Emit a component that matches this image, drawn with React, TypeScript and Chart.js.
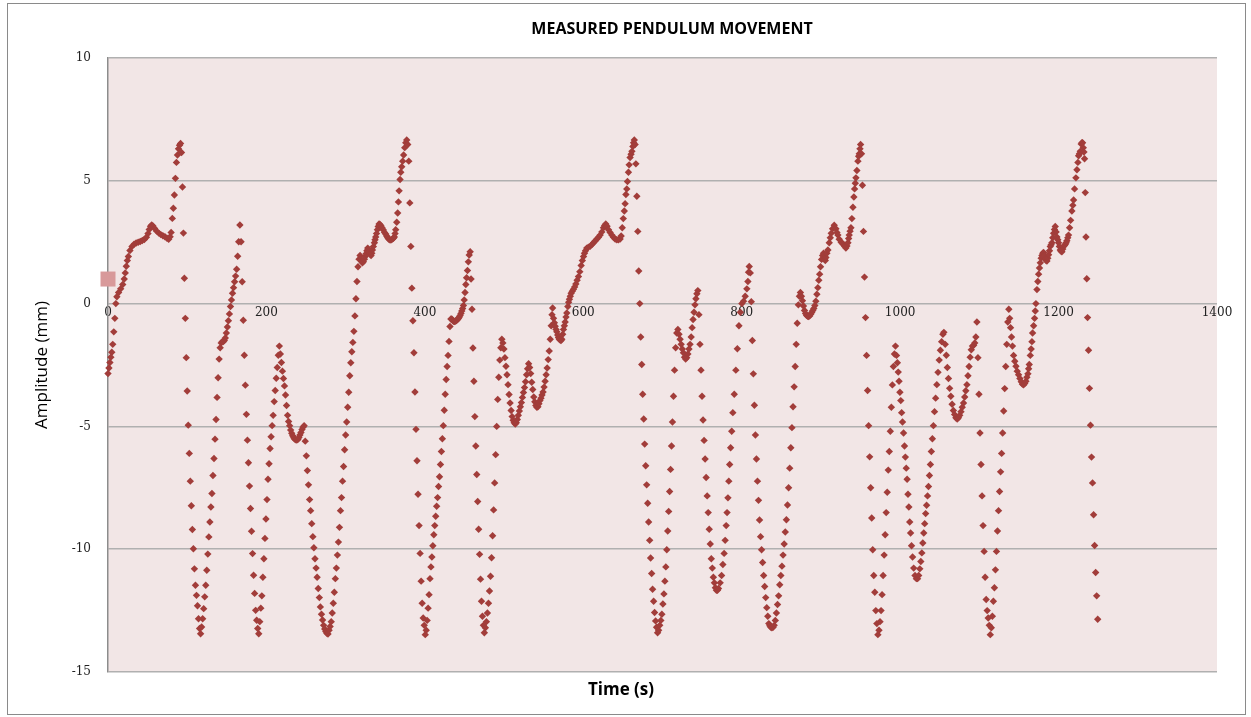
import { useEffect, useRef } from "react";
import { Chart, registerables } from "chart.js";

Chart.register(...registerables);

// [time (s), amplitude (mm)]
const cycle1: [number, number][] = [
  [0,-2.85],[1.2,-2.62],[2.4,-2.4],[3.6,-2.18],[4.8,-1.98],[6,-1.66],[7.3,-1.15],[8.6,-0.6],[9.9,0],
  [11.2,0.28],[13.4,0.45],[16,0.6],[18.6,0.78],[20.5,1.0],[21.8,1.25],[23.1,1.52],[24.4,1.75],[25.7,1.92],[27.7,2.16],[30.3,2.33],[32.9,2.42],[35.5,2.47],[38.1,2.5],[40.7,2.53],[43.3,2.57],[45.9,2.61],[48.5,2.7],[50.5,2.85],[52,3.02],[53.7,3.15],[55.2,3.2],[56.7,3.16],[58.9,3.06],[61.5,2.95],[64.1,2.87],[66.7,2.81],[69.3,2.76],[71.9,2.72],[74.5,2.66],[76.6,2.62],[78.4,2.72],[79.7,2.9],
  [81.2,3.47],[82.5,3.88],[83.8,4.42],[85.1,5.1],[86.4,5.75],[87.7,6.05],[89,6.3],[90.3,6.45],[91.6,6.52],[92.8,6.15],
  [94,4.75],[95.2,2.87],[96.4,1.03],[97.6,-0.6],[98.8,-2.2],[100,-3.56],[101.3,-4.95],[102.6,-6.1],[103.9,-7.23],[105.2,-8.23],[106.5,-9.2],[107.8,-9.98],[109.1,-10.8],[110.4,-11.47],[111.7,-11.88],[113,-12.3],[114.3,-12.83],[115.6,-13.23],[116.9,-13.44],
  [118.2,-13.17],[119.5,-12.83],[120.8,-12.42],[122.1,-11.94],[123.4,-11.47],[124.7,-10.86],[126,-10.2],[127.3,-9.5],[128.6,-8.89],[129.9,-8.28],[131.2,-7.73],[132.5,-7.0],[133.8,-6.31],[135.1,-5.52],[136.4,-4.72],[137.7,-3.82],[139,-3.02],[140.3,-2.26],[141.6,-1.8],[142.9,-1.6],[144.2,-1.55],[145.5,-1.55],[146.8,-1.5],[148.1,-1.4],[149.4,-1.2],[150.7,-0.95],[152,-0.7],[153.3,-0.42],[154.6,-0.12],[155.9,0.15],[157.2,0.42],[158.5,0.65],[159.8,0.89],[161.1,1.12],[162.4,1.4],[163.7,1.93],[165,2.52],[166.5,3.2],
  [168,2.52],[169.4,0.89],[170.8,-0.68],[172.1,-2.1],[173.4,-3.32],[174.7,-4.51],[176,-5.56],[177.3,-6.48],[178.6,-7.43],[179.9,-8.34],[181.2,-9.27],[182.5,-10.18],[183.8,-11.06],[185.1,-11.8],[186.4,-12.49],[187.7,-12.89],[189,-13.23],[190.3,-13.44],
  [191.6,-12.95],[192.9,-12.4],[194.2,-11.9],[195.5,-11.14],[196.8,-10.39],[198.1,-9.56],[199.4,-8.77],[200.7,-7.98],[202,-7.15],[203.3,-6.52],[204.6,-5.9],[205.9,-5.42],[207.2,-4.97],[208.5,-4.55],[209.8,-3.99],[211.1,-3.54],[212.4,-3.04],[213.7,-2.6],[215,-2.1],[216.3,-1.73],
  [217.6,-2.05],[218.9,-2.4],[220.2,-2.75],[221.5,-3.05],[222.8,-3.35],[224.1,-3.72],[225.4,-4.15],[226.7,-4.55],[228,-4.8],[229.3,-4.97],[230.6,-5.15],[231.9,-5.28],[233.2,-5.38],[234.5,-5.46],[235.8,-5.52],[237.1,-5.55],[238.4,-5.56],[239.7,-5.53],[241,-5.45],[242.3,-5.35],[243.6,-5.25],[244.9,-5.13],[246.2,-5.03],[247.6,-4.97],
  [249,-5.6],[250.4,-6.2],[251.7,-6.8],[253.1,-7.38],[254.5,-7.98],[255.8,-8.43],[257.2,-8.96],[258.6,-9.49],[259.9,-9.94],[261.3,-10.39],[262.7,-10.77],[264,-11.14],[265.4,-11.6],[266.8,-11.97],[268.1,-12.35],[269.5,-12.65],[270.9,-12.88],[272.2,-13.1],[273.6,-13.25],[275,-13.35],[276.3,-13.42],[277.7,-13.45],
  [279.1,-13.3],[280.4,-13.15],[281.8,-12.95],[283.1,-12.6],[284.4,-12.2],[285.7,-11.75],[287,-11.2],[288.3,-10.77],[289.6,-10.24],[290.9,-9.71],[292.2,-9.11],[293.5,-8.43],[294.8,-7.9],[296.1,-7.23],[297.4,-6.63],[298.7,-5.95],[300,-5.35],[301.3,-4.82],[302.6,-4.22],[303.9,-3.61],[305.2,-2.94],[306.5,-2.41],[307.8,-1.96],[309.1,-1.58],[310.4,-1.13],[311.7,-0.5],[313,0.2],[314.3,0.9],[315.6,1.5],[316.9,1.81],
];

const cycle2: [number, number][] = [
  [318.2,1.96],[319.4,1.81],[320.2,1.72],[321.1,1.66],[322.4,1.7],[323.7,1.81],[324.7,1.92],[325.8,2.03],[326.8,2.15],[327.9,2.26],[328.7,2.2],[329.5,2.11],[330.8,2.02],[332.1,1.96],[333,2.05],[333.8,2.18],[335,2.32],[336.3,2.48],[337.1,2.6],[338,2.71],[339,2.85],[340.1,3.01],[341.1,3.14],[342.2,3.24],[343.4,3.22],[344.7,3.16],[346.1,3.08],[347.6,3.0],[349.1,2.9],[350.6,2.83],[351.8,2.75],[353.1,2.68],[354.6,2.62],[356.1,2.59],[357.5,2.6],[359,2.63],[360.3,2.66],[361.5,2.71],[362.4,2.85],[363.2,3.01],[364.5,3.31],[365.7,3.69],
  [366.6,4.14],[367.5,4.59],[368.7,5.05],[369.6,5.35],[370.8,5.57],[372,5.8],[373.2,6.05],[374.6,6.35],[375.9,6.55],[377.1,6.66],[378.4,6.48],
  [379.7,5.8],[381,4.1],[382.3,2.33],[383.6,0.63],[384.9,-0.7],[386.2,-2.0],[387.5,-3.6],[388.8,-5.12],[390.1,-6.4],[391.4,-7.76],[392.7,-9.04],[394,-10.17],[395.3,-11.3],[396.6,-12.2],[397.9,-12.8],[399.2,-13.1],[400.5,-13.48],
  [401.7,-13.3],[402.9,-12.9],[404.1,-12.4],[405.3,-11.85],[406.5,-11.2],[407.7,-10.72],[408.9,-10.32],[410.1,-9.86],[411.3,-9.41],[412.5,-9.04],[413.7,-8.66],[414.9,-8.25],[416.1,-7.9],[417.3,-7.45],[418.5,-7.05],[419.7,-6.55],[420.9,-6.02],[422.1,-5.5],[423.3,-4.97],[424.5,-4.34],[425.7,-3.69],[426.9,-3.09],[428.1,-2.56],[429.3,-2.11],[430.5,-1.54],[431.7,-0.93],[432.9,-0.63],
  [434,-0.63],[435,-0.68],[436.1,-0.72],[437.2,-0.73],[438.2,-0.72],[439.3,-0.7],[440.3,-0.68],[441.4,-0.64],[442.4,-0.6],[443.5,-0.55],[444.5,-0.48],[445.6,-0.4],[446.6,-0.3],[447.7,-0.2],[448.7,-0.08],[449.7,0.15],[450.7,0.45],[451.7,0.78],[452.7,1.05],[453.8,1.35],[454.9,1.7],[456,1.98],[457.2,2.11],
  [458.3,1.0],[459.5,-0.23],[460.7,-1.81],[461.9,-3.16],[463.1,-4.6],[464.3,-5.8],[465.5,-6.96],[466.7,-8.06],[467.9,-9.19],[469.1,-10.21],[470.3,-11.22],[471.5,-12.12],[472.7,-12.73],[473.9,-13.1],[475.1,-13.4],
  [476.4,-13.2],[477.7,-12.95],[479,-12.6],[480.3,-12.2],[481.6,-11.7],[482.9,-11.1],[484.2,-10.35],[485.5,-9.45],[486.8,-8.4],[488.1,-7.3],[489.4,-6.15],[490.7,-5.0],[492,-3.9],[493.3,-3.0],[494.6,-2.3],[495.9,-1.8],[497.2,-1.45],
  [498.5,-1.6],[499.8,-1.85],[501.1,-2.2],[502.4,-2.55],[503.7,-2.9],[505,-3.3],[506.3,-3.7],[507.6,-4.05],[508.9,-4.35],[510.2,-4.6],[511.5,-4.75],[512.8,-4.85],[514.1,-4.9],[515.4,-4.85],[516.7,-4.72],[518,-4.55],[519.3,-4.37],[520.6,-4.2],[521.9,-4.03],[523.2,-3.82],[524.5,-3.62],[525.8,-3.42],[527.1,-3.18],[528.4,-2.9],[529.7,-2.65],[531,-2.45],[532.3,-2.6],[533.6,-2.85],[534.9,-3.2],[536.2,-3.5],[537.5,-3.8],[538.8,-4.0],[540.1,-4.15],[541.4,-4.22],[542.7,-4.2],[544,-4.08],[545.3,-3.95],[546.6,-3.85],[547.9,-3.72],[549.2,-3.6],[550.5,-3.4],[551.8,-3.16],[553.1,-2.9],[554.4,-2.62],[555.7,-2.28],[557,-1.93],[558.3,-1.45],[559.5,-0.9],[560.5,-0.45],[561.3,-0.18],
  [562.4,-0.6],[563.5,-0.78],[564.5,-0.92],[565.6,-1.05],[566.6,-1.15],[567.7,-1.28],[568.7,-1.38],[569.8,-1.45],[570.8,-1.48],[571.9,-1.5],[572.9,-1.45],[574,-1.25],[575,-1.05],[576.1,-0.9],[577.1,-0.75],[578.2,-0.55],[579.2,-0.38],[580.5,-0.12],[581.5,0.05],[582.5,0.18],[583.6,0.3],[584.7,0.42],[586.1,0.5],[587.6,0.58],[589.1,0.68],[590.6,0.8],[592.2,0.95],[593.9,1.1],[595.6,1.3],[597.3,1.55],[598.8,1.75],[600.3,1.92],[601.5,2.05],[602.8,2.15],
];

const cycle3: [number, number][] = [
  [604.4,2.26],[606.5,2.3],[608.6,2.33],[610.7,2.4],[612.9,2.48],[615,2.55],[617.1,2.63],[619.2,2.7],[621.3,2.79],[623.4,2.92],[625.5,3.09],[627,3.18],[628.4,3.24],[630,3.15],[631.8,3.01],[633.9,2.9],[636,2.79],[638.1,2.7],[640.2,2.63],[642.3,2.6],[644.4,2.6],[646.5,2.63],[647.8,2.75],
  [649.2,3.09],[650.5,3.46],[651.8,3.77],[652.8,4.07],[653.8,4.44],[654.9,4.67],[655.8,4.97],[657,5.35],[657.9,5.65],[659.1,5.95],[660.3,6.08],[661.4,6.2],[662.6,6.4],[663.5,6.55],[664.4,6.66],[665.4,6.48],
  [666.4,5.69],[667.6,4.37],[668.8,2.94],[670,1.33],[671.3,0],[672.5,-1.36],[673.8,-2.48],[675,-3.69],[676.3,-4.7],[677.5,-5.72],[678.8,-6.6],[680,-7.38],[681.3,-8.13],[682.5,-8.89],[683.8,-9.64],[685,-10.36],[686.3,-10.99],[687.5,-11.63],[688.8,-12.12],[690,-12.58],[691.3,-12.92],[692.5,-13.18],[693.8,-13.4],
  [695.1,-13.3],[696.5,-13.1],[697.9,-12.9],[699.2,-12.65],[700.5,-12.23],[701.8,-11.82],[703,-11.3],[704.2,-10.72],[705.4,-10.02],[706.6,-9.26],[707.8,-8.46],[709,-7.65],[710.2,-6.75],[711.4,-5.8],[712.6,-4.82],[713.9,-3.77],[715.2,-2.71],[716.6,-1.8],[718,-1.2],[719.4,-1.05],
  [720.8,-1.25],[722.2,-1.45],[723.6,-1.66],[725,-1.85],[726.4,-2.0],[727.8,-2.18],[729.2,-2.26],[730.6,-2.2],[732,-2.05],[733.4,-1.85],[734.8,-1.66],[736.2,-1.36],[737.4,-0.98],[738.6,-0.65],[739.8,-0.35],[741,-0.05],[742.2,0.2],[743.4,0.4],[744.6,0.53],
  [746,-0.45],[747.3,-1.66],[748.6,-2.71],[749.9,-3.77],[751.2,-4.74],[752.5,-5.57],[753.8,-6.33],[755.1,-7.08],[756.4,-7.83],[757.7,-8.51],[759,-9.19],[760.3,-9.79],[761.6,-10.39],[762.9,-10.77],[764.2,-11.14],[765.5,-11.37],[766.8,-11.57],[768.1,-11.67],[769.4,-11.67],
  [770.7,-11.6],[772.8,-11.37],[774.6,-11.07],[776.2,-10.62],[777.8,-10.17],[779.1,-9.64],[780.4,-9.04],[781.5,-8.51],[782.6,-7.91],[783.7,-7.23],[784.8,-6.55],[786,-5.87],[787.4,-5.2],[788.8,-4.44],[790.6,-3.69],[792.6,-2.71],[794.5,-1.84],[796.5,-0.9],[798.3,-0.35],[800.2,0],[802.3,0.1],[804.4,0.3],[806.5,0.6],[807.8,0.9],[808.6,1.28],[809.5,1.51],[810.8,1.25],
  [812.1,0.08],[813.4,-1.5],[814.7,-2.86],[816,-4.14],[817.3,-5.35],[818.6,-6.33],[819.9,-7.23],[821.2,-8.01],[822.5,-8.81],[823.8,-9.49],[825.1,-10.02],[826.4,-10.54],[827.7,-11.07],[829,-11.52],[830.3,-11.97],[831.6,-12.38],[832.9,-12.73],[834.2,-13.03],[835.5,-13.12],[836.8,-13.18],[838.1,-13.2],
  [839.6,-13.18],[841,-13.1],[842.4,-12.9],[843.8,-12.6],[845.2,-12.25],[846.6,-11.9],[848,-11.45],[849.4,-11.07],[850.8,-10.69],[852.2,-10.24],[853.6,-9.79],[855,-9.3],[856.4,-8.8],[857.8,-8.2],[859.2,-7.5],[860.6,-6.7],[862,-5.87],[863.4,-5.05],[864.8,-4.2],[866.2,-3.39],[867.5,-2.56],[868.8,-1.66],[870.1,-0.8],[871.5,-0.05],[872.8,0.3],[874.1,0.45],
  [875.4,0.3],[876.7,0.12],[878,-0.1],[879.3,-0.28],[880.6,-0.4],[881.9,-0.48],[883.2,-0.52],[884.5,-0.53],[885.8,-0.5],[887.1,-0.43],
];

const cycle4: [number, number][] = [
  [888.4,-0.36],[889.7,-0.28],[891,-0.2],[892.3,-0.08],[893.6,0.1],[894.9,0.38],[896.1,0.65],[897.3,0.95],[898.4,1.2],[899.5,1.5],[900.8,1.8],[902.1,1.96],[903.3,2.05],[904.6,1.8],[905.5,1.75],[906.3,1.88],[907.5,2.05],[908.8,2.18],[910.5,2.48],[911.8,2.68],[913,2.86],[914.7,3.05],[916.8,3.19],[918.9,3.05],[920.2,2.9],[921.4,2.79],[923.1,2.62],[925.6,2.5],[927.1,2.45],[928.6,2.41],[930,2.33],[931.5,2.26],[932.8,2.35],[934.1,2.48],[935,2.65],[935.7,2.79],[936.8,2.95],[937.9,3.09],[939.1,3.46],[940.4,3.92],[941.6,4.34],[942.5,4.67],[943.4,4.9],[944.2,5.12],[945.4,5.42],[946.7,5.8],[947.6,6.0],[948.4,6.1],[949.3,6.3],[950.1,6.48],[951.2,6.1],
  [952.4,4.82],[953.7,2.94],[955,1.08],[956.3,-0.57],[957.6,-2.11],[958.9,-3.54],[960.2,-4.97],[961.5,-6.24],[962.8,-7.5],[964.1,-8.73],[965.4,-10.02],[966.7,-11.07],[968,-11.75],[969.3,-12.5],[970.6,-13.03],[971.9,-13.48],
  [973.3,-13.3],[974.6,-12.95],[975.9,-12.5],[977.2,-11.85],[978.5,-11.07],[979.8,-10.24],[981.1,-9.41],[982.4,-8.51],[983.7,-7.68],[985,-6.78],[986.3,-6.02],[987.6,-5.2],[988.9,-4.22],[990.2,-3.31],[991.5,-2.56],[992.8,-2.05],[994.1,-1.73],
  [995.4,-2.11],[996.5,-2.41],[997.6,-2.79],[998.6,-3.16],[999.7,-3.61],[1000.8,-3.95],[1001.9,-4.44],[1003,-4.82],[1004.3,-5.27],[1005.5,-5.8],[1006.6,-6.25],[1007.7,-6.7],[1008.8,-7.15],[1009.9,-7.76],[1011,-8.28],[1012.1,-8.89],[1013.2,-9.34],[1014.4,-9.86],[1015.7,-10.32],[1017.1,-10.77],[1018.8,-11.07],[1020.5,-11.2],[1022,-11.2],
  [1023.4,-11.07],[1024.8,-10.8],[1026.1,-10.5],[1027.4,-10.15],[1028.6,-9.75],[1029.8,-9.34],[1031,-8.96],[1032.2,-8.55],[1033.4,-8.21],[1034.6,-7.83],[1035.8,-7.45],[1037,-7.0],[1038.2,-6.55],[1039.4,-6.02],[1040.7,-5.5],[1042,-4.97],[1043.4,-4.4],[1044.8,-3.85],[1046.3,-3.3],[1047.8,-2.8],[1049.3,-2.3],[1050.8,-1.9],[1052.4,-1.55],[1054,-1.25],[1055.2,-1.17],
  [1056.9,-1.66],[1058.3,-2.1],[1059.6,-2.6],[1061,-3.05],[1062.5,-3.45],[1064,-3.77],[1065.6,-4.1],[1067.2,-4.35],[1068.8,-4.52],[1070.4,-4.65],[1072,-4.7],[1073.6,-4.65],[1075.2,-4.55],[1076.8,-4.4],[1078.4,-4.22],[1080,-4.05],[1081.5,-3.8],[1082.9,-3.55],[1084.3,-3.3],[1085.6,-2.94],[1087,-2.56],[1088.4,-2.18],[1089.8,-1.88],[1091.3,-1.73],[1092.8,-1.7],[1094.2,-1.6],[1095.6,-1.36],[1096.9,-0.75],
  [1098.2,-2.2],[1099.5,-3.69],[1100.8,-5.27],[1102.1,-6.55],[1103.4,-7.83],[1104.7,-9.04],[1106,-10.09],[1107.3,-11.14],[1108.6,-12.05],[1109.9,-12.5],[1111.2,-12.8],[1112.5,-13.1],[1113.8,-13.48],
  [1115.1,-13.2],[1116.4,-12.73],[1117.7,-12.12],[1119,-11.57],[1120.3,-10.84],[1121.6,-10.09],[1122.9,-9.26],[1124.2,-8.43],[1125.5,-7.65],[1126.8,-6.85],[1128.1,-6.1],[1129.4,-5.27],[1130.7,-4.37],[1132,-3.46],[1133.3,-2.56],[1134.6,-1.66],[1135.9,-0.75],[1137.2,-0.23],
  [1138.3,-0.6],[1139.4,-0.98],[1140.6,-1.36],[1141.8,-1.73],[1143.2,-2.11],[1144.7,-2.35],[1146.2,-2.55],[1147.8,-2.75],[1149.5,-2.9],[1151.2,-3.05],[1152.9,-3.18],[1154.4,-3.28],[1155.8,-3.31],[1157.3,-3.25],[1158.8,-3.16],[1160,-3.0],[1161.3,-2.86],[1162.2,-2.65],[1163,-2.48],[1164.3,-2.11],[1165.4,-1.85],[1166.4,-1.55],[1167.2,-1.2],[1168.5,-0.9],[1169.7,-0.6],
];

const cycle5: [number, number][] = [
  [1170.6,-0.3],[1171.4,0],[1172.7,0.57],[1173.8,0.9],[1174.8,1.2],[1175.9,1.45],[1176.9,1.66],[1178,1.85],[1179,1.96],[1180.1,2.05],[1181.1,2.08],[1182.2,1.95],[1183.2,1.81],[1184.3,1.75],[1185.3,1.73],[1186.4,1.85],[1187.4,1.99],[1188.5,2.15],[1189.5,2.33],[1190.6,2.4],[1191.6,2.48],[1192.7,2.68],[1193.7,2.86],[1194.8,3.02],[1195.8,3.14],[1196.9,2.92],[1197.9,2.71],[1199,2.6],[1200,2.48],[1201,2.33],[1202.1,2.18],[1203.2,2.13],[1204.2,2.11],[1205.3,2.22],[1206.3,2.33],[1207.4,2.37],[1208.4,2.41],[1209.5,2.48],[1210.5,2.56],[1211.6,2.68],[1212.6,2.79],[1213.9,3.09],[1215.2,3.39],[1216.8,3.77],[1218,4.0],[1219,4.22],[1220.2,4.67],[1221.9,5.12],[1223.2,5.45],[1224.4,5.75],[1225.3,6.02],[1226.4,6.1],[1227.4,6.2],[1228.6,6.5],[1229.5,6.55],[1230.3,6.55],[1231.2,6.35],[1232,6.17],[1232.8,5.9],
  [1233.7,4.52],[1234.6,2.71],[1235.6,1.01],[1236.6,-0.57],[1237.8,-1.9],[1239,-3.45],[1240.3,-4.95],[1241.6,-6.25],[1242.9,-7.3],[1244.2,-8.6],[1245.5,-9.85],[1246.8,-10.95],[1248.1,-11.9],[1249.4,-12.85],
];

const startMarker: [number, number][] = [[0, 1]];

const chartTitle = "MEASURED PENDULUM MOVEMENT";
const xAxisTitle = "Time (s)";
const yAxisTitle = "Amplitude (mm)";
const xMin = 0;
const xMax = 1400;
const xStep = 200;
const yMin = -15;
const yMax = 10;
const yStep = 5;

const decorPlugin = {
  id: "decor",
  beforeDraw(chart: any) {
    const { ctx, chartArea } = chart;
    ctx.save();
    ctx.fillStyle = "#ffffff";
    ctx.fillRect(0, 0, chart.width, chart.height);
    ctx.strokeStyle = "#8a8a8a";
    ctx.lineWidth = 1;
    ctx.strokeRect(7.5, 3.5, 1238, 711);
    ctx.fillStyle = "#f2e6e6";
    ctx.fillRect(chartArea.left, chartArea.top, chartArea.right - chartArea.left, chartArea.bottom - chartArea.top);
    ctx.restore();
  },
  afterDraw(chart: any) {
    const { ctx } = chart;
    ctx.save();
    ctx.fillStyle = "#000000";
    ctx.textAlign = "center";
    ctx.textBaseline = "middle";
    ctx.font = 'bold 16px "Open Sans"';
    ctx.fillText(chartTitle, 672, 29);
    ctx.font = 'bold 17px "Open Sans"';
    ctx.fillText(xAxisTitle, 621, 690);
    ctx.restore();
  },
};

export default function App() {
  const ref = useRef<HTMLCanvasElement | null>(null);
  useEffect(() => {
    if (!ref.current) return;
    const measured = [...cycle1, ...cycle2, ...cycle3, ...cycle4, ...cycle5].map(([x, y]) => ({ x, y }));
    const chart = new Chart(ref.current, {
      type: "scatter",
      data: {
        datasets: [
          {
            label: "Measured",
            data: measured,
            pointStyle: "rectRot",
            pointRadius: 3.7,
            pointBackgroundColor: "#a23d3a",
            pointBorderWidth: 0,
            backgroundColor: "#a23d3a",
            borderColor: "#a23d3a",
            clip: false,
          } as any,
          {
            label: "Start",
            data: startMarker.map(([x, y]) => ({ x, y })),
            pointStyle: "rect",
            pointRadius: 10.6,
            pointBackgroundColor: "#d8999a",
            pointBorderWidth: 0,
            backgroundColor: "#d8999a",
            clip: false,
          } as any,
        ],
      },
      options: {
        animation: false,
        responsive: false,
        maintainAspectRatio: false,
        layout: { padding: { left: 0, top: 58, right: 34, bottom: 45 } },
        plugins: {
          legend: { display: false },
          tooltip: { enabled: false },
          title: { display: false },
        },
        scales: {
          x: {
            type: "linear",
            position: { y: 0 } as any,
            min: xMin,
            max: xMax,
            ticks: {
              stepSize: xStep,
              padding: 2,
              maxRotation: 0,
              autoSkip: false,
              color: "#222222",
              font: { family: "DejaVu Serif", size: 12 },
              callback: (value: any) => String(value),
            },
            grid: { display: false, drawTicks: false },
            border: { display: false },
          },
          y: {
            type: "linear",
            position: "left",
            min: yMin,
            max: yMax,
            afterFit: (scale: any) => {
              scale.width = 108;
            },
            ticks: {
              stepSize: yStep,
              padding: 17,
              color: "#222222",
              font: { family: "DejaVu Serif", size: 12 },
              callback: (value: any) => String(value),
            },
            grid: { color: "#b0b0b0", lineWidth: 1.5, drawTicks: false },
            border: { display: true, color: "#8c8c8c", width: 1.5 },
            title: {
              display: true,
              text: yAxisTitle,
              color: "#000000",
              font: { family: "Open Sans", size: 17 },
              padding: { top: 32, bottom: 0 },
            },
          },
        },
      },
      plugins: [decorPlugin],
    });
    return () => chart.destroy();
  }, []);
  return (
    <canvas
      ref={ref}
      width={1251}
      height={717}
      style={{ position: "fixed", left: 0, top: 0, width: 1251, height: 717 }}
    />
  );
}
